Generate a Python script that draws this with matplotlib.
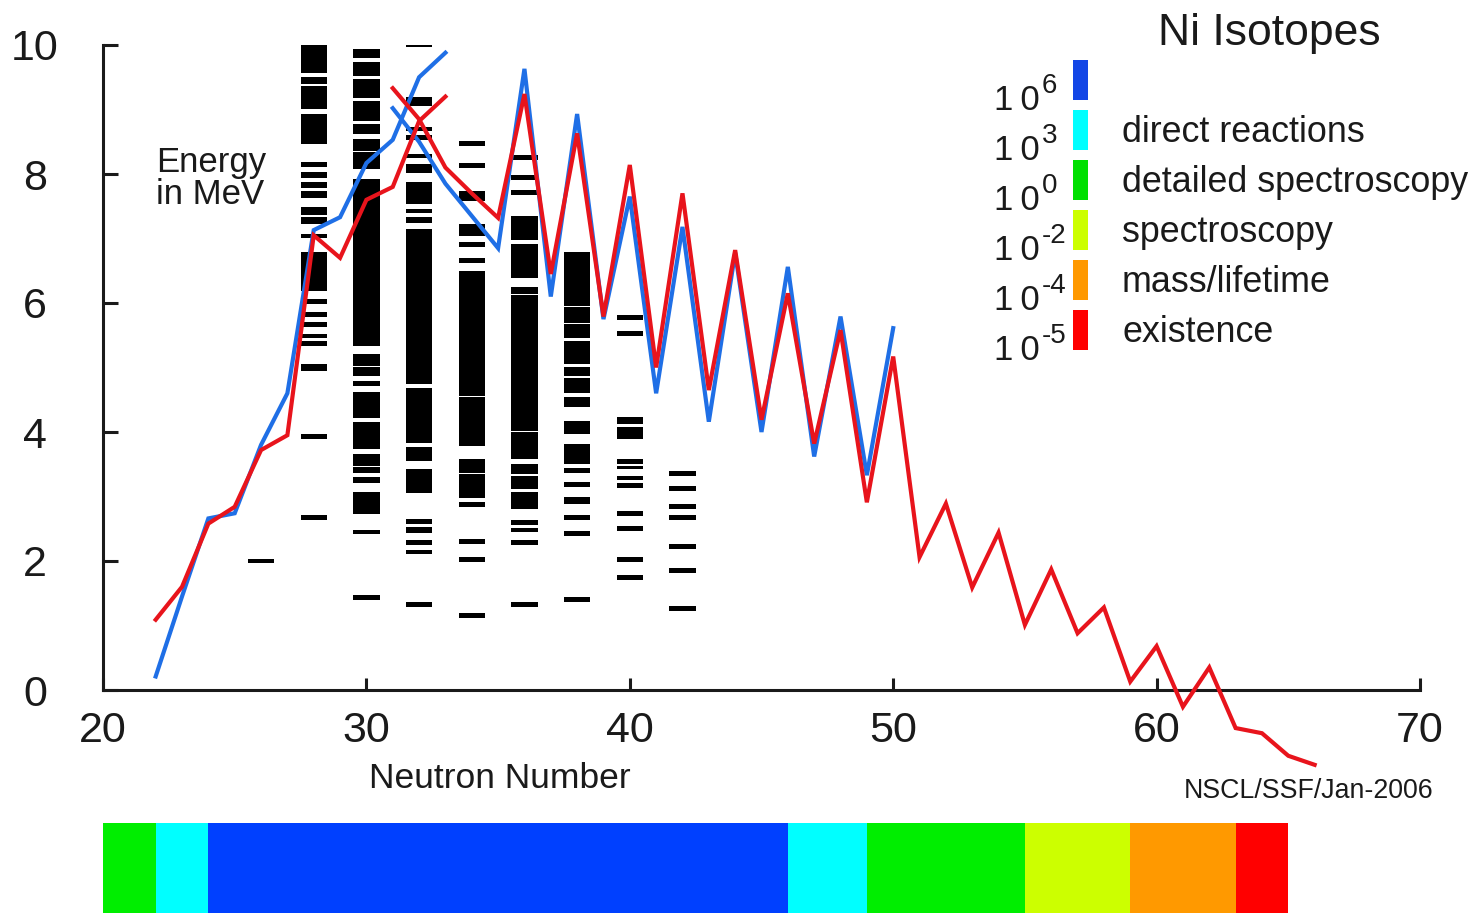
import matplotlib
matplotlib.use("Agg")
import matplotlib.pyplot as plt
from matplotlib.patches import Rectangle

plt.rcParams['font.family'] = ['Liberation Sans', 'DejaVu Sans']

# Proton separation energies (MeV) vs neutron number
n_sp = [22, 23, 24, 25, 26, 27, 28, 29, 30, 31, 32, 33]
sp_exp = [0.21, 1.45, 2.66, 2.74, 3.80, 4.60, 7.13, 7.33, 8.17, 8.53, 9.50, 9.88]
sp_theo = [1.09, 1.60, 2.58, 2.84, 3.72, 3.95, 7.05, 6.70, 7.60, 7.80, 8.82, 9.20]

# Neutron separation energies (MeV) vs neutron number
n_sn_exp = list(range(31, 51))
sn_exp = [9.02, 8.50, 7.85, 7.35, 6.85, 9.63, 6.10, 8.93, 5.75, 7.65,
          4.60, 7.18, 4.16, 6.78, 4.00, 6.56, 3.62, 5.79, 3.33, 5.61]
n_sn_theo = list(range(31, 67))
sn_theo = [9.33, 8.85, 8.10, 7.70, 7.32, 9.24, 6.45, 8.63, 5.79, 8.14,
           5.00, 7.70, 4.65, 6.82, 4.19, 6.15, 3.82, 5.58, 2.91, 5.17,
           2.06, 2.89, 1.59, 2.44, 1.01, 1.87, 0.88, 1.28, 0.13, 0.68,
           -0.26, 0.35, -0.59, -0.67, -1.02, -1.16]

# Known excited levels per even-N isotope: (low, high) energy bands in MeV
levels_26 = [(2.00, 2.00)]
levels_28 = [(9.90, 10.0), (9.77, 9.86), (9.58, 9.73), (9.41, 9.49), (9.24, 9.35),
             (9.02, 9.20), (8.78, 8.91), (8.62, 8.74), (8.48, 8.58), (8.12, 8.17),
             (7.95, 8.02), (7.80, 7.86), (7.64, 7.72), (7.38, 7.47), (7.24, 7.32),
             (7.02, 7.05), (6.66, 6.78), (6.52, 6.62), (6.36, 6.48), (6.20, 6.32),
             (6.00, 6.05), (5.80, 5.85), (5.65, 5.69), (5.47, 5.50), (5.35, 5.40),
             (4.97, 5.04), (3.93, 3.93), (2.68, 2.68)]
levels_30 = [(9.81, 9.92), (9.53, 9.72), (9.34, 9.46), (9.20, 9.30), (8.98, 9.12),
             (8.84, 8.94), (8.64, 8.76), (8.37, 8.53), (8.09, 8.33), (7.55, 7.90),
             (7.20, 7.52), (6.95, 7.17), (6.55, 6.92), (6.30, 6.52), (5.95, 6.27),
             (5.65, 5.92), (5.35, 5.62), (5.04, 5.19), (4.88, 4.99), (4.73, 4.78),
             (4.45, 4.60), (4.23, 4.42), (3.95, 4.14), (3.75, 3.92), (3.49, 3.64),
             (3.38, 3.44), (3.22, 3.29), (2.90, 3.05), (2.74, 2.87), (2.45, 2.45),
             (1.44, 1.44)]
levels_32 = [(10.0, 10.0), (9.07, 9.18), (8.68, 8.71), (8.56, 8.56), (8.26, 8.29),
             (8.03, 8.14), (7.72, 7.86), (7.55, 7.69), (7.41, 7.44), (7.26, 7.32),
             (6.70, 7.13), (6.25, 6.67), (5.62, 6.22), (5.20, 5.59), (4.76, 5.17),
             (4.30, 4.66), (3.84, 4.27), (3.57, 3.75), (3.25, 3.41), (3.07, 3.22),
             (2.59, 2.64), (2.45, 2.51), (2.28, 2.29), (2.14, 2.14), (1.32, 1.32)]
levels_34 = [(8.47, 8.47), (8.13, 8.13), (7.60, 7.72), (7.05, 7.21), (6.90, 6.90),
             (6.64, 6.68), (6.30, 6.48), (5.85, 6.27), (5.40, 5.82), (4.97, 5.37),
             (4.57, 4.94), (4.20, 4.53), (3.80, 4.17), (3.38, 3.57), (3.18, 3.33),
             (3.00, 3.14), (2.88, 2.88), (2.30, 2.30), (2.03, 2.03), (1.16, 1.16)]
levels_36 = [(8.25, 8.25), (7.95, 7.95), (7.72, 7.72), (7.17, 7.33), (7.00, 7.14),
             (6.62, 6.90), (6.40, 6.59), (6.15, 6.23), (5.60, 6.10), (5.05, 5.57),
             (4.55, 5.02), (4.03, 4.52), (3.60, 3.98), (3.36, 3.49), (3.13, 3.30),
             (2.82, 3.05), (2.59, 2.60), (2.48, 2.48), (2.28, 2.28), (1.33, 1.33)]
levels_38 = [(6.40, 6.77), (5.97, 6.37), (5.71, 5.92), (5.47, 5.66), (5.07, 5.40),
             (4.88, 4.99), (4.62, 4.82), (4.47, 4.53), (4.42, 4.42), (3.98, 4.16),
             (3.52, 3.80), (3.41, 3.41), (3.19, 3.19), (2.90, 2.98), (2.67, 2.67),
             (2.43, 2.43), (1.41, 1.41)]
levels_40 = [(5.77, 5.77), (5.53, 5.53), (4.14, 4.22), (3.91, 4.06), (3.52, 3.57),
             (3.44, 3.46), (3.27, 3.30), (3.15, 3.19), (2.74, 2.74), (2.51, 2.51),
             (2.03, 2.03), (1.75, 1.75)]
levels_42 = [(3.36, 3.36), (3.13, 3.13), (2.84, 2.84), (2.68, 2.68), (2.22, 2.22),
             (1.85, 1.85), (1.26, 1.26)]
level_columns = {26: levels_26, 28: levels_28, 30: levels_30, 32: levels_32,
                 34: levels_34, 36: levels_36, 38: levels_38, 40: levels_40,
                 42: levels_42}

# Production-rate categories along the isotope chain
bar_edges = [20, 22, 24, 46, 49, 55, 59, 63, 65]
bar_colors = ['#00ee00', '#00ffff', '#0040ff', '#00ffff', '#00ee00',
              '#ccff00', '#ff9900', '#ff0000']

legend_colors = ['#1346e6', '#00ffff', '#00e000', '#ccff00', '#ff9900', '#ff0000']
legend_powers = ['6', '3', '0', '-2', '-4', '-5']
legend_labels = ['', 'direct reactions', 'detailed spectroscopy', 'spectroscopy',
                 'mass/lifetime', 'existence']

x_ticks = [20, 30, 40, 50, 60, 70]
y_ticks = [0, 2, 4, 6, 8, 10]

BLUE = '#1f6fe6'
RED = '#e8141c'
INK = '#1a1a1a'

W, H = 1480, 915
fig = plt.figure(figsize=(W / 100, H / 100), dpi=100)
ax = fig.add_axes([103 / W, 225 / H, 1317 / W, 645 / H])

# level scheme: single levels as short dashes, dense groups as filled blocks
single_half = 0.038
band_pad = 0.018
for n, bands in level_columns.items():
    for lo, hi in bands:
        pad = single_half if hi - lo < 0.02 else band_pad
        ax.bar(n, hi - lo + 2 * pad, bottom=lo - pad, width=1.0,
               color='black', linewidth=0, zorder=1)

ax.plot(n_sp, sp_exp, color=BLUE, lw=3, clip_on=False, zorder=3,
        solid_joinstyle='miter')
ax.plot(n_sn_exp, sn_exp, color=BLUE, lw=3, clip_on=False, zorder=3,
        solid_joinstyle='miter')
ax.plot(n_sp, sp_theo, color=RED, lw=3, clip_on=False, zorder=4,
        solid_joinstyle='miter')
ax.plot(n_sn_theo, sn_theo, color=RED, lw=3, clip_on=False, zorder=4,
        solid_joinstyle='miter')

ax.set_xlim(20, 70)
ax.set_ylim(0, 10)
ax.set_xticks(x_ticks)
ax.set_yticks(y_ticks)
for s in ['top', 'right']:
    ax.spines[s].set_visible(False)
for s in ['left', 'bottom']:
    ax.spines[s].set_linewidth(2.2)
    ax.spines[s].set_color(INK)
ax.tick_params(axis='y', direction='in', length=11, width=2.2, pad=49,
               labelsize=31, colors=INK)
ax.tick_params(axis='x', direction='in', length=9, width=2.2, pad=15,
               labelsize=31, colors=INK)
for lab in ax.get_yticklabels():
    lab.set_horizontalalignment('center')
ax.patch.set_alpha(0)

ax.set_xlabel('Neutron Number', fontsize=25.5, color=INK)
ax.xaxis.set_label_coords((500 - 103) / 1317, (690 - 778) / 645)
ax.xaxis.label.set_verticalalignment('center')

ax.text(22.0, 10 - (146 - 45) / 64.5, 'Energy\nin MeV', ha='left', va='top',
        fontsize=25, color=INK, linespacing=0.95)

# legend
fig.text(1269 / W, 1 - 45 / H, 'Ni Isotopes', ha='center', va='baseline',
         fontsize=32, color=INK)
for i, (c, p, lab) in enumerate(zip(legend_colors, legend_powers, legend_labels)):
    top = 60 + 50 * i
    fig.add_artist(Rectangle((1073 / W, 1 - (top + 40) / H), 15 / W, 40 / H,
                             transform=fig.transFigure, color=c, lw=0))
    fig.text(1040 / W, 1 - (top + 50) / H, '1\u20090', ha='right', va='baseline',
             fontsize=25, color=INK)
    fig.text(1042 / W, 1 - (top + 33) / H, p, ha='left', va='baseline',
             fontsize=20, color=INK)
    if lab:
        fig.text(1122 / W, 1 - (top + 32) / H, lab, ha='left', va='baseline',
                 fontsize=25.8, color=INK)

fig.text(1433 / W, 1 - 798 / H, 'NSCL/SSF/Jan-2006', ha='right', va='baseline',
         fontsize=19.3, color=INK)

# category strip
bax = fig.add_axes([103 / W, 2 / H, 1317 / W, 90 / H])
bax.set_xlim(20, 70)
bax.set_ylim(0, 1)
bax.axis('off')
for left, right, c in zip(bar_edges[:-1], bar_edges[1:], bar_colors):
    bax.barh(0.5, right - left, left=left, height=1.0, color=c, linewidth=0)

fig.savefig('out.png', dpi=100)
